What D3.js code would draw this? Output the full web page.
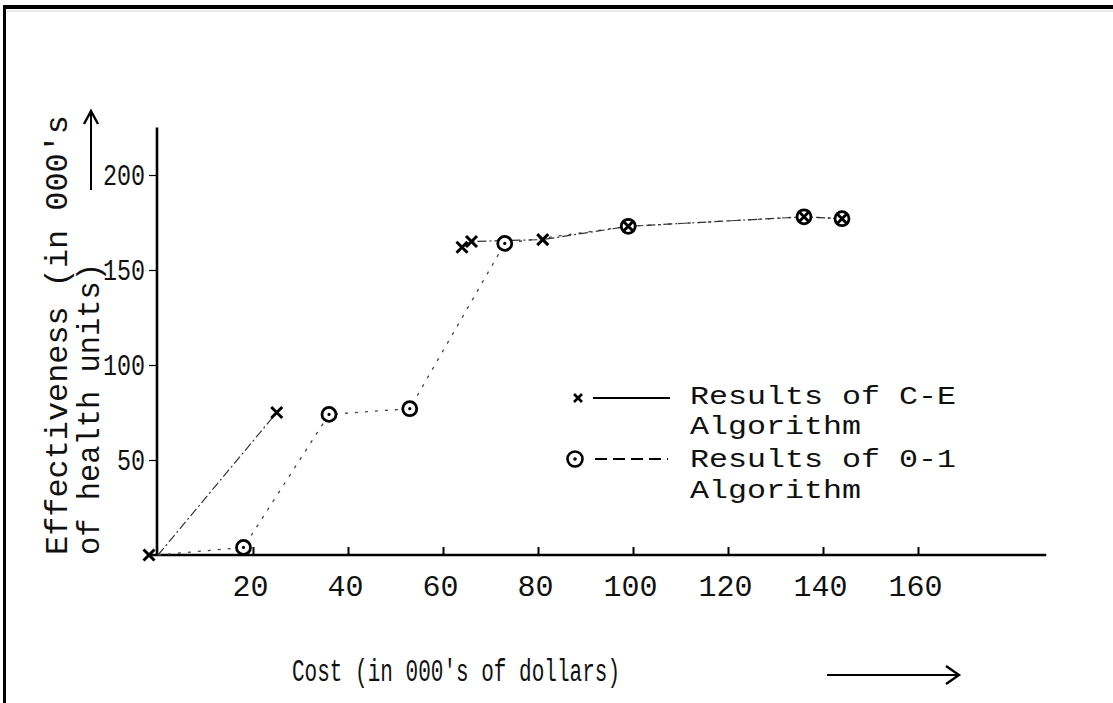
<!DOCTYPE html>
<html>
<head>
<meta charset="utf-8">
<script src="https://cdn.jsdelivr.net/npm/d3@7/dist/d3.min.js"></script>
<style>
  html, body { margin: 0; padding: 0; background: #fff; }
  svg { display: block; }
  text { font-family: "Liberation Mono", "Courier New", monospace; fill: #111; }
</style>
</head>
<body>
<svg id="chart" width="1113" height="703"></svg>
<script>
// ---- data ----
const xTickValues = [20, 40, 60, 80, 100, 120, 140, 160];
const yTickValues = [50, 100, 150, 200];

// Results of C-E Algorithm (cost, effectiveness); null = no connecting line drawn
const ceCost = [0, 25, null, 64, 66, 81, 99, 136, 144];
const ceEff  = [0, 75, null, 162, 165, 166, 173, 178, 177];

// Results of 0-1 Algorithm
const zoCost = [0, 18, 36, 53, 73, 99, 136, 144];
const zoEff  = [0, 4, 74, 77, 164, 173, 178, 177];

const xLabel = "Cost (in 000's of dollars)";
const yLabel1 = "Effectiveness (in 000's";
const yLabel2 = "of health units)";
const legendLabels = [["Results of C-E", "Algorithm"], ["Results of 0-1", "Algorithm"]];

// ---- drawing ----
const svg = d3.select("#chart");
const x = d3.scaleLinear().domain([0, 160]).range([158, 918]);
const y = d3.scaleLinear().domain([0, 200]).range([555, 175]);

// page frame
svg.append("rect").attr("x", 3).attr("y", 5).attr("width", 1110).attr("height", 4).attr("fill", "#000");
svg.append("rect").attr("x", 3).attr("y", 5).attr("width", 3).attr("height", 698).attr("fill", "#000");
svg.append("line").attr("x1", 6).attr("x2", 1113).attr("y1", 11).attr("y2", 11).attr("stroke", "#bbb").attr("stroke-width", 0.6);

// axes lines
svg.append("line").attr("x1", x(-2)).attr("x2", x(187)).attr("y1", y(0)).attr("y2", y(0))
  .attr("stroke", "#000").attr("stroke-width", 2.6);
svg.append("line").attr("x1", x(0) - 1).attr("x2", x(0) - 1).attr("y1", y(0)).attr("y2", y(225))
  .attr("stroke", "#000").attr("stroke-width", 2.6);

// x axis ticks & labels
const gx = svg.append("g").attr("transform", `translate(0,${y(0)})`)
  .call(d3.axisBottom(x).tickValues(xTickValues).tickSize(0).tickPadding(0));
gx.select(".domain").remove();
gx.selectAll(".tick").append("line").attr("x1", 0).attr("x2", 0).attr("y1", 0).attr("y2", -8)
  .attr("stroke", "#000").attr("stroke-width", 2);
gx.selectAll(".tick text").attr("y", 41).attr("dy", 0).attr("dx", -3)
  .attr("font-size", 30).attr("fill", "#111")
  .style("font-family", "'Liberation Mono', monospace");

// y axis ticks & labels
const gy = svg.append("g").attr("transform", `translate(${x(0) - 1},0)`)
  .call(d3.axisLeft(y).tickValues(yTickValues).tickSize(0).tickPadding(0));
gy.select(".domain").remove();
gy.selectAll(".tick").append("line").attr("x1", 0).attr("x2", -8).attr("y1", 0).attr("y2", 0)
  .attr("stroke", "#000").attr("stroke-width", 1.2);
gy.selectAll(".tick text").attr("x", -12).attr("dy", "0.32em")
  .attr("font-size", 29).attr("fill", "#111")
  .attr("textLength", d => String(d).length * 14)
  .attr("lengthAdjust", "spacingAndGlyphs")
  .style("font-family", "'Liberation Mono', monospace");

// axis titles
svg.append("text").attr("x", 292).attr("y", 681).attr("font-size", 31)
  .attr("textLength", 328).attr("lengthAdjust", "spacingAndGlyphs").text(xLabel);
svg.append("text").attr("transform", "translate(67,555) rotate(-90)").attr("font-size", 32)
  .attr("textLength", 440).attr("lengthAdjust", "spacingAndGlyphs").text(yLabel1);
svg.append("text").attr("transform", "translate(99,555) rotate(-90)").attr("font-size", 31)
  .attr("textLength", 292).attr("lengthAdjust", "spacingAndGlyphs").text(yLabel2);

// direction arrows
svg.append("line").attr("x1", 827).attr("x2", 958).attr("y1", 675).attr("y2", 675).attr("stroke", "#000").attr("stroke-width", 2);
svg.append("path").attr("d", "M946,666 L959,675 L946,684").attr("fill", "none").attr("stroke", "#000").attr("stroke-width", 2.4);
svg.append("line").attr("x1", 91).attr("x2", 91).attr("y1", 190).attr("y2", 112).attr("stroke", "#000").attr("stroke-width", 2);
svg.append("path").attr("d", "M84,124 L91,111 L98,124").attr("fill", "none").attr("stroke", "#000").attr("stroke-width", 2.4);

// series lines
const ceData = ceCost.map((c, i) => ({ c, e: ceEff[i] }));
const zoData = zoCost.map((c, i) => ({ c, e: zoEff[i] }));
const line = d3.line().defined(d => d.c !== null).x(d => x(d.c)).y(d => y(d.e));

svg.append("path").datum(zoData).attr("d", line).attr("fill", "none")
  .attr("stroke", "#444").attr("stroke-width", 1.3).attr("stroke-dasharray", "3,7");
svg.append("path").datum(ceData).attr("d", line).attr("fill", "none")
  .attr("stroke", "#333").attr("stroke-width", 1.2).attr("stroke-dasharray", "9,3,2,3");

// markers
function xMark(g, s, w) {
  return g.append("path").attr("d", `M${-s},${-s}L${s},${s}M${-s},${s}L${s},${-s}`)
    .attr("stroke", "#000").attr("stroke-width", w).attr("fill", "none");
}
svg.selectAll(".zo").data(zoData.filter(d => d.c !== 0)).enter().append("g")
  .attr("transform", d => `translate(${x(d.c)},${y(d.e)})`)
  .each(function () {
    const g = d3.select(this);
    g.append("circle").attr("r", 7).attr("fill", "#fff").attr("stroke", "#000").attr("stroke-width", 2.8);
    g.append("circle").attr("r", 1.6).attr("fill", "#000");
  });
svg.selectAll(".ce").data(ceData.filter(d => d.c !== null)).enter().append("g")
  .attr("transform", d => `translate(${x(d.c) - (d.c === 0 ? 9 : 0)},${y(d.e)})`)
  .each(function () { xMark(d3.select(this), 5.5, 3); });

// legend
const lg = svg.append("g");
xMark(lg.append("g").attr("transform", "translate(578,398)"), 4, 2.6);
lg.append("line").attr("x1", 593).attr("x2", 670).attr("y1", 398).attr("y2", 398).attr("stroke", "#000").attr("stroke-width", 2);
lg.append("circle").attr("cx", 575).attr("cy", 459).attr("r", 7.5).attr("fill", "#fff").attr("stroke", "#000").attr("stroke-width", 2.6);
lg.append("circle").attr("cx", 575).attr("cy", 459).attr("r", 1.8).attr("fill", "#000");
lg.append("line").attr("x1", 595).attr("x2", 668).attr("y1", 459).attr("y2", 459).attr("stroke", "#000")
  .attr("stroke-width", 2.2).attr("stroke-dasharray", "12,6");
const lBase = [[404, 434], [467, 498]];
legendLabels.forEach((pair, i) => {
  pair.forEach((t, j) => {
    lg.append("text").attr("x", 690).attr("y", lBase[i][j]).attr("font-size", 26)
      .attr("textLength", t.length * 19).attr("lengthAdjust", "spacingAndGlyphs").text(t);
  });
});
</script>
</body>
</html>
